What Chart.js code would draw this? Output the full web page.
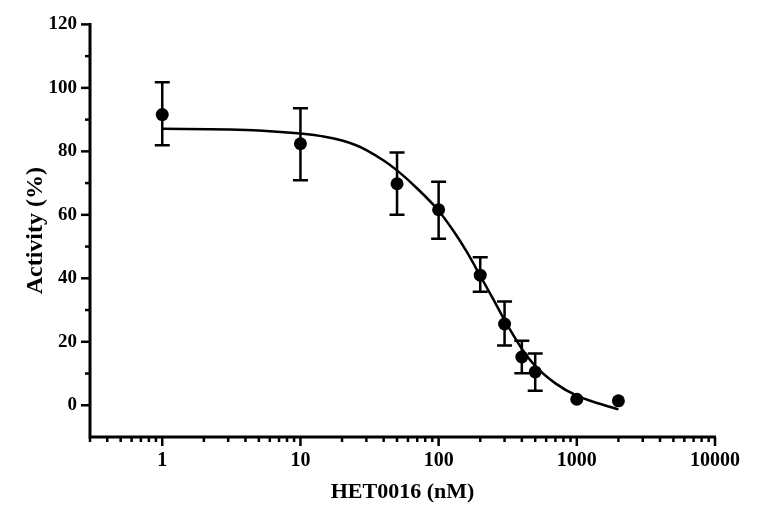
<!DOCTYPE html>
<html>
<head>
<meta charset="utf-8">
<script src="https://cdn.jsdelivr.net/npm/chart.js@4.4.0/dist/chart.umd.min.js"></script>
<style>
  html, body { margin: 0; padding: 0; background: #fff; }
  #wrap { width: 777px; height: 518px; }
</style>
</head>
<body>
<div id="wrap"><canvas id="myChart" width="777" height="518"></canvas></div>
<script>
// measured points
const doses = [1, 10, 50, 100, 200, 300, 400, 500, 1000, 2000];
const activity = [91.6, 82.4, 69.8, 61.6, 41.0, 25.6, 15.2, 10.5, 1.9, 1.4];
const errHigh = [101.8, 93.6, 79.6, 70.4, 46.6, 32.7, 20.3, 16.3, null, null];
const errLow = [81.9, 70.9, 60.0, 52.5, 35.8, 18.8, 10.1, 4.6, null, null];

// fitted curve
const fitX = [1, 3, 5, 10, 15, 20, 25, 30, 40, 50, 70, 100, 130, 160, 200, 250, 300, 400, 500, 700, 1000, 1400, 2000];
const fitY = [87.1, 86.9, 86.6, 85.6, 84.6, 83.4, 82.0, 80.4, 77.1, 74.0, 68.3, 61.3, 54.5, 48.3, 40.8, 33.2, 26.8, 17.8, 12.4, 6.9, 3.0, 0.7, -1.3];

const xLabels = [1, 10, 100, 1000, 10000];
const yLabels = [0, 20, 40, 60, 80, 100, 120];

const serif = "'Liberation Serif', 'Times New Roman', serif";

const axesPlugin = {
    id: 'axesPlugin',
    afterDatasetsDraw(chart) {
        const ctx = chart.ctx;
        const x = chart.scales.x;
        const y = chart.scales.y;
        const left = chart.chartArea.left;
        const bottom = chart.chartArea.bottom;
        ctx.save();
        ctx.strokeStyle = '#000';

        // error bars
        ctx.lineWidth = 2.5;
        for (let i = 0; i < doses.length; i++) {
            if (errHigh[i] === null) continue;
            const px = x.getPixelForValue(doses[i]);
            const top = y.getPixelForValue(errHigh[i]);
            const bot = y.getPixelForValue(errLow[i]);
            ctx.beginPath();
            ctx.moveTo(px, top); ctx.lineTo(px, bot);
            ctx.moveTo(px - 7.5, top); ctx.lineTo(px + 7.5, top);
            ctx.moveTo(px - 7.5, bot); ctx.lineTo(px + 7.5, bot);
            ctx.stroke();
        }

        // axis lines
        ctx.lineWidth = 3;
        ctx.beginPath();
        ctx.moveTo(left, y.getPixelForValue(120) - 1.5);
        ctx.lineTo(left, bottom);
        ctx.lineTo(x.getPixelForValue(10000) + 1, bottom);
        ctx.stroke();

        // y ticks
        ctx.lineWidth = 2.5;
        for (let v = 0; v <= 120; v += 10) {
            const py = y.getPixelForValue(v);
            const len = v % 20 === 0 ? 9 : 5;
            ctx.beginPath();
            ctx.moveTo(left, py); ctx.lineTo(left - len, py);
            ctx.stroke();
        }

        // x ticks (log, with minors)
        for (let d = 0.1; d < 10000; d *= 10) {
            for (let m = 1; m <= 9; m++) {
                const v = d * m;
                if (v < x.min || v > x.max) continue;
                const px = x.getPixelForValue(v);
                const len = m === 1 ? 9 : 5;
                ctx.beginPath();
                ctx.moveTo(px, bottom); ctx.lineTo(px, bottom + len);
                ctx.stroke();
            }
        }
        const pEnd = x.getPixelForValue(10000);
        ctx.beginPath();
        ctx.moveTo(pEnd, bottom); ctx.lineTo(pEnd, bottom + 9);
        ctx.stroke();
        ctx.restore();
    }
};

const config = {
    type: 'scatter',
    data: {
        datasets: [{
            label: 'fit',
            data: fitX.map((v, i) => ({x: v, y: fitY[i]})),
            showLine: true,
            borderColor: '#000',
            borderWidth: 2.5,
            pointRadius: 0,
            cubicInterpolationMode: 'monotone',
            order: 2
        }, {
            label: 'HET0016',
            data: doses.map((v, i) => ({x: v, y: activity[i]})),
            backgroundColor: '#000',
            borderColor: '#000',
            pointRadius: 6.5,
            pointBorderWidth: 0,
            order: 1
        }]
    },
    options: {
        responsive: false,
        animation: false,
        events: [],
        layout: {padding: {top: 11, right: 62, left: 21, bottom: 12}},
        plugins: {
            legend: {display: false},
            tooltip: {enabled: false}
        },
        scales: {
            x: {
                type: 'logarithmic',
                min: 0.325,
                max: 10000,
                afterBuildTicks: (s) => { s.ticks = xLabels.map(v => ({value: v})); },
                afterFit: (s) => { s.height = 69; },
                grid: {display: false, drawTicks: false},
                border: {display: false},
                ticks: {
                    color: '#000',
                    padding: 12,
                    maxRotation: 0,
                    autoSkip: false,
                    font: {family: serif, size: 20, weight: 'bold'},
                    callback: (v) => String(v)
                },
                title: {
                    display: true,
                    text: 'HET0016 (nM)',
                    color: '#000',
                    padding: {top: 0, bottom: 0},
                    font: {family: serif, size: 22, weight: 'bold'}
                }
            },
            y: {
                min: -10,
                max: 120,
                afterBuildTicks: (s) => { s.ticks = yLabels.map(v => ({value: v})); },
                afterFit: (s) => { s.width = 69; },
                grid: {display: false, drawTicks: false},
                border: {display: false},
                ticks: {
                    color: '#000',
                    padding: 13,
                    font: {family: serif, size: 19, weight: 'bold'}
                },
                title: {
                    display: true,
                    text: 'Activity (%)',
                    color: '#000',
                    padding: {top: 0, bottom: 0},
                    font: {family: serif, size: 24, weight: 'bold'}
                }
            }
        }
    },
    plugins: [axesPlugin]
};

const myChart = new Chart(document.getElementById('myChart'), config);
</script>
</body>
</html>
